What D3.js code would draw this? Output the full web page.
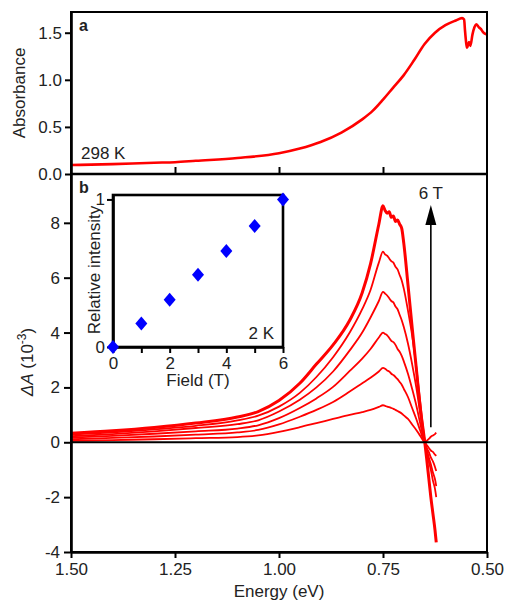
<!DOCTYPE html>
<html>
<head>
<meta charset="utf-8">
<script src="https://cdn.jsdelivr.net/npm/d3@7"></script>
<style>
  body { margin: 0; background: #fff; }
  svg text { font-family: Arial, "Liberation Sans", sans-serif; fill: #222; }
</style>
</head>
<body>
<svg id="chart" width="507" height="601"></svg>
<script>
// panel a: absorbance at 298 K
var absEnergy = [1.50, 1.40, 1.30, 1.25, 1.20, 1.10, 1.00, 0.95, 0.90, 0.85, 0.80, 0.775, 0.75, 0.725, 0.70, 0.675, 0.65, 0.625, 0.60, 0.575, 0.56, 0.555, 0.553, 0.55, 0.548, 0.545, 0.543, 0.540, 0.535, 0.53, 0.526, 0.52, 0.515, 0.51, 0.505, 0.50];
var absValues = [0.095, 0.105, 0.12, 0.125, 0.14, 0.17, 0.22, 0.27, 0.34, 0.44, 0.58, 0.67, 0.79, 0.92, 1.05, 1.21, 1.38, 1.50, 1.58, 1.63, 1.655, 1.64, 1.53, 1.39, 1.34, 1.38, 1.40, 1.36, 1.48, 1.56, 1.59, 1.56, 1.54, 1.51, 1.49, 1.48];

// panel b: MCD difference spectra, 1 T .. 6 T (units of 10^-3)
var mcdEnergy = [1.50, 1.40, 1.30, 1.20, 1.10, 1.05, 1.00, 0.95, 0.91, 0.87, 0.83, 0.80, 0.78, 0.76, 0.75,
  0.745, 0.74, 0.735, 0.73, 0.725, 0.72, 0.715, 0.71, 0.705, 0.70, 0.69, 0.68, 0.67, 0.66, 0.65,
  0.645, 0.64, 0.635, 0.63, 0.625, 0.622];
var fields = ["1 T", "2 T", "3 T", "4 T", "5 T", "6 T"];
var mcd1T = [0.05, 0.08, 0.11, 0.15, 0.19, 0.25, 0.38, 0.55, 0.70, 0.85, 1.00, 1.10, 1.18, 1.29, 1.35,
  1.33, 1.30, 1.28, 1.25, 1.22, 1.18, 1.14, 1.10, 1.05, 0.98, 0.85, 0.65, 0.45, 0.22, 0.02,
  0.05, 0.12, 0.20, 0.25, 0.30, 0.35];
var mcd2T = [0.11, 0.16, 0.21, 0.28, 0.36, 0.45, 0.65, 0.93, 1.18, 1.47, 1.85, 2.15, 2.35, 2.58, 2.71,
  2.68, 2.62, 2.58, 2.50, 2.45, 2.38, 2.30, 2.20, 2.10, 1.95, 1.65, 1.25, 0.85, 0.40, 0.00,
  -0.10, -0.20, -0.30, -0.35, -0.45, -0.50];
var mcd3T = [0.17, 0.23, 0.31, 0.40, 0.50, 0.62, 0.88, 1.25, 1.60, 2.02, 2.60, 3.05, 3.40, 3.82, 4.00,
  3.95, 3.90, 3.80, 3.70, 3.65, 3.55, 3.40, 3.30, 3.15, 2.95, 2.50, 1.95, 1.35, 0.65, 0.00,
  -0.20, -0.35, -0.55, -0.70, -0.90, -1.05];
var mcd4T = [0.22, 0.30, 0.40, 0.52, 0.66, 0.80, 1.12, 1.55, 2.00, 2.58, 3.35, 4.00, 4.55, 5.15, 5.48,
  5.42, 5.35, 5.25, 5.15, 5.10, 4.95, 4.85, 4.65, 4.45, 4.20, 3.60, 2.85, 2.00, 1.00, 0.05,
  -0.25, -0.55, -0.80, -1.10, -1.35, -1.60];
var mcd5T = [0.28, 0.36, 0.47, 0.60, 0.80, 0.97, 1.30, 1.80, 2.38, 3.10, 4.00, 4.85, 5.55, 6.55, 6.95,
  6.85, 6.80, 6.70, 6.60, 6.55, 6.40, 6.30, 6.10, 5.90, 5.60, 4.80, 3.90, 2.75, 1.40, 0.10,
  -0.30, -0.70, -1.00, -1.40, -1.70, -2.00];
var mcd6T = [0.33, 0.42, 0.54, 0.70, 0.92, 1.12, 1.52, 2.15, 2.85, 3.55, 4.45, 5.45, 6.50, 7.95, 8.62,
  8.45, 8.35, 8.40, 8.20, 8.25, 8.05, 8.10, 7.95, 7.80, 7.25, 5.75, 4.20, 2.70, 1.20, 0.05,
  -0.60, -1.30, -2.00, -2.60, -3.20, -3.65];
var mcdSeries = [mcd1T, mcd2T, mcd3T, mcd4T, mcd5T, mcd6T];

// inset: relative intensity vs field at 2 K
var insetField = [0, 1, 2, 3, 4, 5, 6];
var insetIntensity = [0, 0.16, 0.32, 0.49, 0.65, 0.82, 1.0];

var absTicks = [0, 0.5, 1.0, 1.5];
var energyTicks = [1.50, 1.25, 1.00, 0.75, 0.50];
var mcdTicks = [-4, -2, 0, 2, 4, 6, 8];

var svg = d3.select("#chart");
svg.append("rect").attr("width", 507).attr("height", 601).attr("fill", "#fff");

var left = 71, right = 487, topA = 12, midY = 174, bottomB = 552;

var x = d3.scaleLinear().domain([1.5, 0.5]).range([left, right]);
var yA = d3.scaleLinear().domain([0, 1.72]).range([midY, topA]);
var yB = d3.scaleLinear().domain([-4, 9.78]).range([bottomB, midY]);

// ---- panel a
var lineA = d3.line()
  .x((d, i) => x(absEnergy[i]))
  .y((d) => yA(d))
  .curve(d3.curveMonotoneX);

svg.append("path")
  .datum(absValues)
  .attr("d", lineA)
  .attr("fill", "none")
  .attr("stroke", "#ff0000")
  .attr("stroke-width", 2.6);

// ---- panel b curves
var lineB = d3.line()
  .x((d, i) => x(mcdEnergy[i]))
  .y((d) => yB(d))
  .curve(d3.curveMonotoneX);

svg.selectAll(".mcd")
  .data(mcdSeries)
  .enter().append("path")
    .attr("class", "mcd")
    .attr("d", lineB)
    .attr("fill", "none")
    .attr("stroke", "#ff0000")
    .attr("stroke-width", (d, i) => i == 5 ? 3 : 1.8);

// zero line
svg.append("line")
  .attr("x1", left).attr("x2", right)
  .attr("y1", yB(0)).attr("y2", yB(0))
  .attr("stroke", "#000").attr("stroke-width", 2);

// frames
svg.append("rect")
  .attr("x", left).attr("y", topA)
  .attr("width", right - left).attr("height", bottomB - topA)
  .attr("fill", "none").attr("stroke", "#000").attr("stroke-width", 2);
svg.append("line")
  .attr("x1", left).attr("x2", right).attr("y1", midY).attr("y2", midY)
  .attr("stroke", "#000").attr("stroke-width", 2.6);

// axes
function styleAxis(g) {
  g.select(".domain").attr("stroke-width", 2.6);
  g.selectAll(".tick line").attr("stroke-width", 2);
  g.selectAll("text").attr("font-size", 17).attr("fill", "#222");
}

svg.append("g")
  .attr("transform", "translate(" + left + ",0)")
  .call(d3.axisLeft(yA).tickValues(absTicks).tickFormat(d3.format(".1f")).tickSize(6).tickSizeOuter(0).tickPadding(3))
  .call(styleAxis);

svg.append("g")
  .attr("transform", "translate(0," + midY + ")")
  .call(d3.axisTop(x).tickValues([1.25, 1.00, 0.75]).tickFormat("").tickSize(7).tickSizeOuter(0))
  .call((g) => g.select(".domain").remove())
  .call((g) => g.selectAll(".tick line").attr("stroke-width", 2));

svg.append("g")
  .attr("transform", "translate(" + left + ",0)")
  .call(d3.axisLeft(yB).tickValues(mcdTicks).tickFormat((d) => String(d)).tickSize(7).tickSizeOuter(0).tickPadding(4))
  .call(styleAxis);

svg.append("g")
  .attr("transform", "translate(0," + bottomB + ")")
  .call(d3.axisBottom(x).tickValues(energyTicks).tickFormat(d3.format(".2f")).tickSize(6).tickSizeOuter(0).tickPadding(5))
  .call(styleAxis);

// axis titles
svg.append("text")
  .attr("transform", "translate(25," + (yA(0.86)) + ") rotate(-90)")
  .attr("text-anchor", "middle").attr("font-size", 17)
  .text("Absorbance");

var dA = svg.append("text")
  .attr("transform", "translate(33,362) rotate(-90)")
  .attr("text-anchor", "middle").attr("font-size", 17);
dA.append("tspan").attr("font-style", "italic").text("\u0394A");
dA.append("tspan").text("  (10");
dA.append("tspan").attr("font-size", 12).attr("dy", -7).text("-3");
dA.append("tspan").attr("dy", 7).text(")");

svg.append("text")
  .attr("x", (left + right) / 2).attr("y", 597)
  .attr("text-anchor", "middle").attr("font-size", 17)
  .text("Energy (eV)");

// panel labels
svg.append("text").attr("x", 79).attr("y", 31).attr("font-size", 16).attr("font-weight", "bold").text("a");
svg.append("text").attr("x", 79).attr("y", 193).attr("font-size", 16).attr("font-weight", "bold").text("b");
svg.append("text").attr("x", 81).attr("y", 159).attr("font-size", 17).text("298 K");

// field arrow
var arrowE = 0.635;
svg.append("line")
  .attr("x1", x(arrowE)).attr("x2", x(arrowE))
  .attr("y1", yB(0.55)).attr("y2", yB(8.0))
  .attr("stroke", "#000").attr("stroke-width", 1.6);
svg.append("path")
  .attr("d", "M" + x(arrowE) + "," + (yB(8.65)) + " l-5.5,20 l11,0 z")
  .attr("fill", "#000");
svg.append("text")
  .attr("x", x(arrowE)).attr("y", 199)
  .attr("text-anchor", "middle").attr("font-size", 17)
  .text("6 T");

// ---- inset
var ix = d3.scaleLinear().domain([0, 6]).range([113, 283]);
var iy = d3.scaleLinear().domain([0, 1.03]).range([347, 195]);

svg.append("rect")
  .attr("x", 113).attr("y", 195).attr("width", 170).attr("height", 152)
  .attr("fill", "#fff").attr("stroke", "#000").attr("stroke-width", 2.6);

svg.append("g")
  .attr("transform", "translate(0,347)")
  .call(d3.axisBottom(ix).tickValues(insetField).tickFormat((d) => d % 2 == 0 ? d : "").tickSize(6).tickSizeOuter(0).tickPadding(4))
  .call(styleAxis);

svg.append("g")
  .attr("transform", "translate(113,0)")
  .call(d3.axisLeft(iy).tickValues([0, 1]).tickFormat(d3.format("d")).tickSize(6).tickSizeOuter(0).tickPadding(2))
  .call(styleAxis);

svg.selectAll(".pt")
  .data(insetField)
  .enter().append("path")
    .attr("class", "pt")
    .attr("transform", (d, i) => "translate(" + ix(d) + "," + iy(insetIntensity[i]) + ")")
    .attr("d", "M0,-7 L6,0 L0,7 L-6,0 Z")
    .attr("fill", "#0000ff");

svg.append("text")
  .attr("transform", "translate(100,270) rotate(-90)")
  .attr("text-anchor", "middle").attr("font-size", 17)
  .text("Relative intensity");
svg.append("text")
  .attr("x", 198).attr("y", 386)
  .attr("text-anchor", "middle").attr("font-size", 17)
  .text("Field (T)");
svg.append("text")
  .attr("x", 274).attr("y", 339)
  .attr("text-anchor", "end").attr("font-size", 17)
  .text("2 K");
</script>
</body>
</html>
